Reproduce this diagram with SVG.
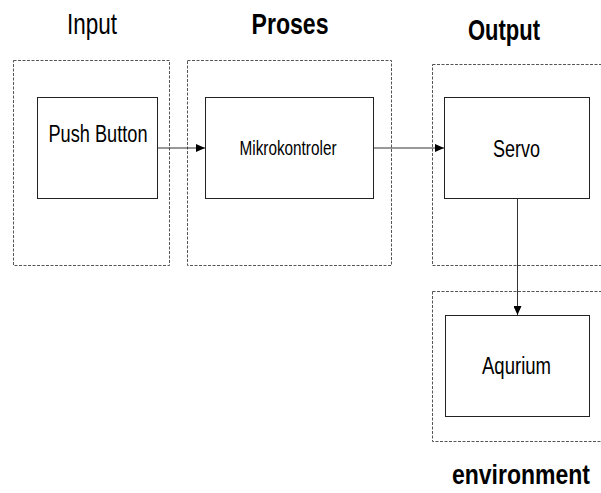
<svg xmlns="http://www.w3.org/2000/svg" width="601" height="493" viewBox="0 0 601 493">
<style>
.grp{fill:none;stroke:#555;stroke-width:1;stroke-dasharray:3 1.5}
.box{fill:#fff;stroke:#222;stroke-width:1}
.t{font-family:"Liberation Sans",Arial,sans-serif;fill:#000;text-anchor:middle}
.h{font-size:30px}
.b{font-weight:bold}
.n{font-size:23px}
.c{stroke:#333;stroke-width:1;fill:none;marker-end:url(#ah)}
</style>
<defs>
<marker id="ah" markerWidth="9" markerHeight="8" refX="9" refY="4" orient="auto" markerUnits="userSpaceOnUse">
<path d="M0,0 L9,4 L0,8 Z" fill="#000"/>
</marker>
</defs>
<rect width="601" height="493" fill="#fff"/>
<g id="group-input">
<rect class="grp" x="13.5" y="60.5" width="156" height="205"/>
<text class="t h" x="92" y="34" textLength="50" lengthAdjust="spacingAndGlyphs">Input</text>
</g>
<g id="group-proses">
<rect class="grp" x="187.5" y="60.5" width="204" height="205"/>
<text class="t h b" x="290" y="34" textLength="77" lengthAdjust="spacingAndGlyphs">Proses</text>
</g>
<g id="group-output">
<rect class="grp" x="432.5" y="64.5" width="180" height="201"/>
<text class="t h b" x="504" y="40" textLength="72" lengthAdjust="spacingAndGlyphs">Output</text>
</g>
<g id="group-environment">
<rect class="grp" x="432.5" y="291.5" width="180" height="150"/>
<text class="t b" style="font-size:27px" x="521" y="484" textLength="138" lengthAdjust="spacingAndGlyphs">environment</text>
</g>
<g id="push-button">
<rect class="box" x="37.5" y="97.5" width="120" height="101"/>
<text class="t n" x="98" y="142" textLength="99" lengthAdjust="spacingAndGlyphs">Push Button</text>
</g>
<g id="mikrokontroler">
<rect class="box" x="205.5" y="97.5" width="168" height="101"/>
<text class="t" style="font-size:21px" x="288" y="155" textLength="97" lengthAdjust="spacingAndGlyphs">Mikrokontroler</text>
</g>
<g id="servo">
<rect class="box" x="444.5" y="97.5" width="145" height="101"/>
<text class="t n" x="516.5" y="157" textLength="47" lengthAdjust="spacingAndGlyphs">Servo</text>
</g>
<g id="aqurium">
<rect class="box" x="445.5" y="315.5" width="144" height="101"/>
<text class="t n" x="516.5" y="374" textLength="69" lengthAdjust="spacingAndGlyphs">Aqurium</text>
</g>
<g id="connectors">
<path class="c" d="M157.5,148 L205,148"/>
<path class="c" d="M373.5,148 L444,148"/>
<path class="c" d="M517.5,198.5 L517.5,315"/>
</g>
</svg>
